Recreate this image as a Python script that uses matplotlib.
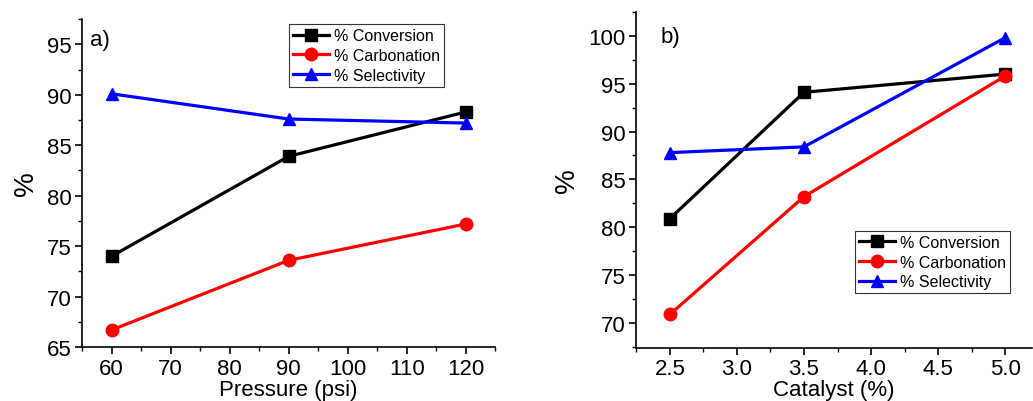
import numpy as np
import matplotlib
matplotlib.use('Agg')
import matplotlib.pyplot as plt
from matplotlib.ticker import MultipleLocator, FormatStrFormatter

plt.rcParams['font.family'] = ['Liberation Sans', 'DejaVu Sans']

# panel a: pressure series
pressure = [60, 90, 120]
conv_a = [74.0, 83.9, 88.3]
carb_a = [66.7, 73.6, 77.2]
sel_a = [90.1, 87.6, 87.2]

# panel b: catalyst series
catalyst = [2.5, 3.5, 5.0]
conv_b = [80.9, 94.1, 96.0]
carb_b = [70.9, 83.2, 95.8]
sel_b = [87.8, 88.4, 99.8]

labels = ['% Conversion', '% Carbonation', '% Selectivity']
styles = [('black', 's'), ('red', 'o'), ('blue', '^')]


def style_axes(ax):
    for side in ['top', 'right']:
        ax.spines[side].set_visible(False)
    ax.spines['left'].set_linewidth(1.2)
    ax.spines['bottom'].set_linewidth(1.2)
    ax.tick_params(which='major', direction='out', length=5, width=1.2, labelsize=16, pad=2.5)
    ax.tick_params(which='minor', direction='out', length=3, width=1.0)


def draw(ax, x, series):
    for ys, lab, (c, m) in zip(series, labels, styles):
        ax.plot(x, ys, color=c, marker=m, markersize=9, linewidth=2.3, label=lab)


def add_legend(ax, anchor):
    leg = ax.legend(loc='upper right', bbox_to_anchor=anchor, fontsize=11.5,
                    frameon=True, fancybox=False, edgecolor='black', handlelength=2.3,
                    borderpad=0.25, labelspacing=0.3, handletextpad=0.3)
    leg.get_frame().set_linewidth(0.8)


fig = plt.figure(figsize=(10.33, 4.02), dpi=100)

ax1 = fig.add_axes([0.0794, 0.134, 0.40, 0.816])
draw(ax1, pressure, [conv_a, carb_a, sel_a])
ax1.set_xlim(55, 125)
ax1.set_ylim(65, 97.5)
ax1.xaxis.set_major_locator(MultipleLocator(10))
ax1.xaxis.set_minor_locator(MultipleLocator(5))
ax1.yaxis.set_major_locator(MultipleLocator(5))
ax1.yaxis.set_minor_locator(MultipleLocator(2.5))
style_axes(ax1)
ax1.set_xlabel('Pressure (psi)', fontsize=16, labelpad=0)
ax1.set_ylabel('%', fontsize=20, labelpad=6)
ax1.text(0.02, 0.92, 'a)', transform=ax1.transAxes, fontsize=16)
add_legend(ax1, (0.896, 1.009))

ax2 = fig.add_axes([0.616, 0.132, 0.383, 0.836])
draw(ax2, catalyst, [conv_b, carb_b, sel_b])
ax2.set_xlim(2.25, 5.2)
ax2.set_ylim(67.4, 102.5)
ax2.xaxis.set_major_locator(MultipleLocator(0.5))
ax2.xaxis.set_minor_locator(MultipleLocator(0.25))
ax2.yaxis.set_major_locator(MultipleLocator(5))
ax2.yaxis.set_minor_locator(MultipleLocator(2.5))
ax2.xaxis.set_major_formatter(FormatStrFormatter('%.1f'))
style_axes(ax2)
ax2.set_xlabel('Catalyst (%)', fontsize=16, labelpad=0)
ax2.set_ylabel('%', fontsize=20, labelpad=6)
ax2.text(0.06, 0.91, 'b)', transform=ax2.transAxes, fontsize=16)
add_legend(ax2, (0.965, 0.372))

fig.savefig('out.png', dpi=100)
